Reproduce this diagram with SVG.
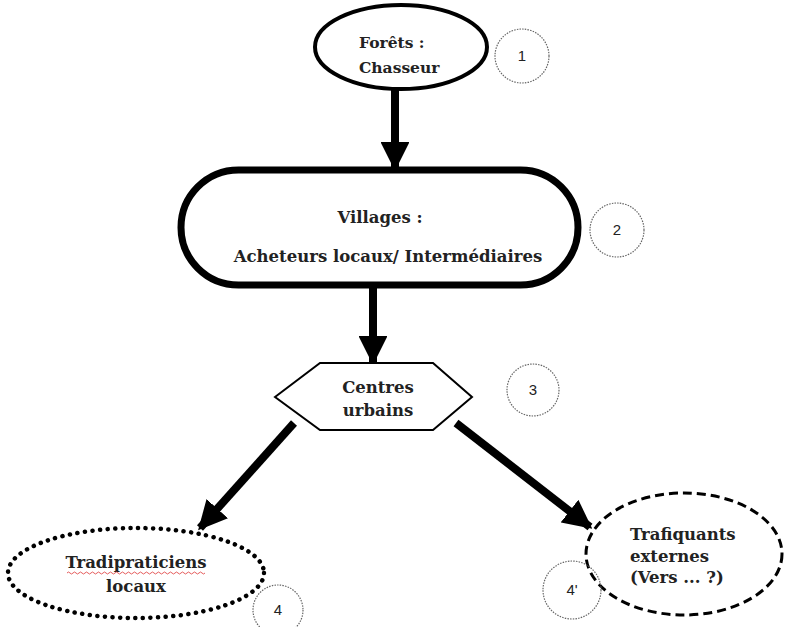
<svg xmlns="http://www.w3.org/2000/svg" width="790" height="627" viewBox="0 0 790 627">
<style>
.t{font-family:"DejaVu Serif","Liberation Serif",serif;font-weight:bold;font-size:16.5px;fill:#222}
.n{font-family:"Liberation Sans",Arial,sans-serif;font-size:15px;fill:#222}
.badge{fill:none;stroke:#666;stroke-width:1.2;stroke-dasharray:1.5 1.2}
.conn{stroke:#000;stroke-width:8;fill:none}
</style>
<defs>
<marker id="ah" viewBox="0 0 10 10" refX="9" refY="5" markerWidth="3.6" markerHeight="3.6" orient="auto" markerUnits="strokeWidth">
<path d="M0,0 L10,5 L0,10 Z" fill="#000"/>
</marker>
</defs>
<rect width="790" height="627" fill="#fff"/>
<g id="connectors">
<line class="conn" x1="395" y1="89" x2="395" y2="168" marker-end="url(#ah)"/>
<line class="conn" x1="373" y1="288" x2="373" y2="362" marker-end="url(#ah)"/>
<line class="conn" x1="294" y1="423" x2="200" y2="528" marker-end="url(#ah)"/>
<line class="conn" x1="456" y1="423" x2="590" y2="527" marker-end="url(#ah)"/>
</g>
<g id="n1">
<ellipse cx="401" cy="47" rx="86" ry="42" fill="#fff" stroke="#000" stroke-width="4"/>
<text class="t" x="359" y="48" style="font-size:15.5px">Forêts :</text>
<text class="t" x="359" y="73" style="font-size:15.5px">Chasseur</text>
</g>
<g id="b1"><circle class="badge" cx="522" cy="56" r="27"/><text class="n" x="522" y="61" text-anchor="middle">1</text></g>
<g id="n2">
<rect x="181" y="170" width="397" height="115" rx="57.5" fill="#fff" stroke="#000" stroke-width="7"/>
<text class="t" x="380" y="223" text-anchor="middle">Villages :</text>
<text class="t" x="388" y="262" text-anchor="middle">Acheteurs locaux/ Intermédiaires</text>
</g>
<g id="b2"><circle class="badge" cx="617" cy="230" r="27"/><text class="n" x="617" y="235" text-anchor="middle">2</text></g>
<g id="n3">
<polygon points="275,397 320,363 433,363 472,397 433,430 320,430" fill="#fff" stroke="#000" stroke-width="2"/>
<text class="t" x="378" y="393" text-anchor="middle">Centres</text>
<text class="t" x="378" y="416" text-anchor="middle">urbains</text>
</g>
<g id="b3"><circle class="badge" cx="533" cy="390" r="26"/><text class="n" x="533" y="395" text-anchor="middle">3</text></g>
<g id="n4">
<ellipse cx="136" cy="573" rx="128" ry="45" fill="#fff" stroke="#000" stroke-width="4.5" stroke-dasharray="0.1 7.5" stroke-linecap="round"/>
<text class="t" x="136" y="568" text-anchor="middle">Tradipraticiens</text>
<path d="M67,573 q1.5,-2 3,0 t3,0 t3,0 t3,0 t3,0 t3,0 t3,0 t3,0 t3,0 t3,0 t3,0 t3,0 t3,0 t3,0 t3,0 t3,0 t3,0 t3,0 t3,0 t3,0 t3,0 t3,0 t3,0 t3,0 t3,0 t3,0 t3,0 t3,0 t3,0 t3,0 t3,0 t3,0 t3,0 t3,0 t3,0 t3,0 t3,0 t3,0 t3,0 t3,0 t3,0 t3,0 t3,0 t3,0 t3,0 t3,0" fill="none" stroke="#d33" stroke-width="0.8"/>
<text class="t" x="136" y="592" text-anchor="middle">locaux</text>
</g>
<g id="b4"><circle class="badge" cx="278" cy="610" r="25"/><text class="n" x="278" y="615" text-anchor="middle">4</text></g>
<g id="n5">
<ellipse cx="684" cy="554" rx="98" ry="61" fill="#fff" stroke="#000" stroke-width="3" stroke-dasharray="9 5"/>
<text class="t" x="630" y="540">Trafiquants</text>
<text class="t" x="630" y="562">externes</text>
<text class="t" x="630" y="583">(Vers ... ?)</text>
</g>
<g id="b5"><circle class="badge" cx="572" cy="590" r="29"/><text class="n" x="572" y="595" text-anchor="middle">4'</text></g>
</svg>
